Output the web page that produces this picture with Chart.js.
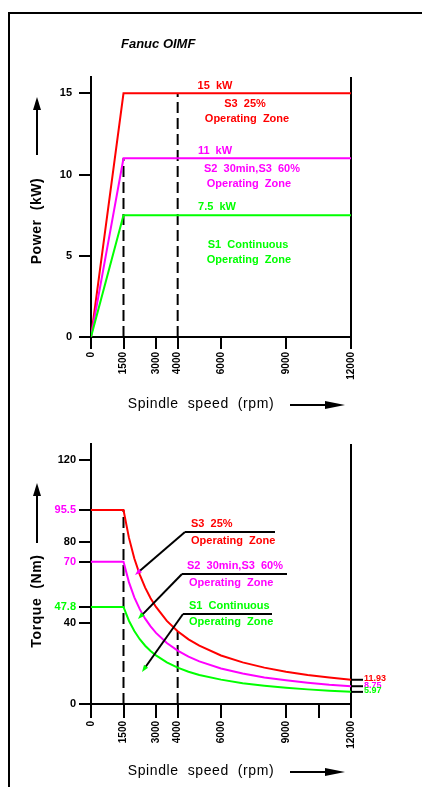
<!DOCTYPE html>
<html>
<head>
<meta charset="utf-8">
<script src="https://cdn.jsdelivr.net/npm/chart.js@4.4.0/dist/chart.umd.min.js"></script>
<style>
  html, body { margin: 0; padding: 0; background: #fff; }
  body { width: 422px; height: 787px; position: relative; overflow: hidden; }
  #frame { position: absolute; left: 8px; top: 12px; width: 600px; height: 900px;
           border-left: 2px solid #000; border-top: 2px solid #000; }
  .box { position: absolute; left: 0; width: 422px; }
  #powerBox { top: 0; height: 420px; }
  #torqueBox { top: 420px; height: 367px; }
</style>
</head>
<body>
<div id="frame"></div>
<div class="box" id="powerBox"><canvas id="power" width="422" height="420"></canvas></div>
<div class="box" id="torqueBox"><canvas id="torque" width="422" height="367"></canvas></div>
<script>
// ---- data ----
const speedTicks = [0, 1500, 3000, 4000, 6000, 9000, 12000];
const torqueSpeedTicks = [0, 1500, 3000, 4000, 6000, 9000, 10500, 12000];

const powerSpeeds = [0, 1500, 12000];
const powerS3 = [0, 15, 15];
const powerS2 = [0, 11, 11];
const powerS1 = [0, 7.5, 7.5];
const powerTicks = [0, 5, 10, 15];

const torqueSpeeds = [0, 1500, 1750, 2000, 2250, 2500, 2750, 3000, 3500, 4000, 4500, 5000, 6000, 7000, 8000, 9000, 10000, 11000, 12000];
const torqueS3 = [95.5, 95.5, 81.9, 71.6, 63.7, 57.3, 52.1, 47.8, 40.9, 35.8, 31.8, 28.7, 23.9, 20.5, 17.9, 15.9, 14.3, 13.0, 11.93];
const torqueS2 = [70, 70, 60, 52.5, 46.7, 42, 38.2, 35, 30, 26.3, 23.3, 21, 17.5, 15, 13.1, 11.7, 10.5, 9.5, 8.75];
const torqueS1 = [47.8, 47.8, 41, 35.9, 31.9, 28.7, 26.1, 23.9, 20.5, 17.9, 15.9, 14.3, 12, 10.2, 9, 8, 7.2, 6.5, 5.97];
const torqueTicks = [0, 40, 47.8, 70, 80, 95.5, 120];

const dashSpeeds = [1500, 4000];
const powerDashTops = [11, 15];
const torqueDashTops = [95.5, 35.8];

const RED = '#ff0000', MAG = '#ff00ff', GRN = '#00ff00';
const FONT = '"Liberation Sans", Arial, sans-serif';

function line(xs, ys, color, extra) {
  return Object.assign({
    data: xs.map((x, i) => ({ x: x, y: ys[i] })),
    borderColor: color, borderWidth: 2, pointRadius: 0, tension: 0, fill: false
  }, extra || {});
}

function dashes(tops) {
  return dashSpeeds.map((s, i) => line([s, s], [0, tops[i]], '#000', { borderDash: [11, 5] }));
}

function xScale(values, tickLen, labelled) {
  return {
    type: 'linear', min: 0, max: 12000,
    afterBuildTicks: s => { s.ticks = values.map(v => ({ value: v })); },
    afterFit: s => { s.height = 83; },
    border: { display: true, color: '#000', width: 2 },
    grid: {
      color: c => (c.tick && c.tick.value === 12000) ? '#000' : 'rgba(0,0,0,0)',
      tickColor: '#000', lineWidth: 2, tickLength: tickLen
    },
    ticks: {
      autoSkip: false, minRotation: 90, maxRotation: 90, padding: 3, color: '#000',
      font: { family: FONT, size: 10, weight: 'bold' },
      callback: v => labelled.includes(v) ? String(v) : ''
    }
  };
}

function yScale(max, values, colorOf, pad) {
  return {
    type: 'linear', min: 0, max: max,
    afterBuildTicks: s => { s.ticks = values.map(v => ({ value: v })); },
    afterFit: s => { s.width = 91; },
    border: { display: true, color: '#000', width: 2 },
    grid: { color: 'rgba(0,0,0,0)', tickColor: '#000', lineWidth: 2, tickLength: 12 },
    ticks: {
      autoSkip: false, padding: pad,
      color: c => colorOf(c.tick.value),
      font: { family: FONT, size: 11, weight: 'bold' },
      callback: v => String(v)
    }
  };
}

function arrow(ctx, x1, y1, x2, y2, len, half, color) {
  const a = Math.atan2(y2 - y1, x2 - x1);
  ctx.strokeStyle = '#000';
  ctx.lineWidth = 2;
  ctx.beginPath(); ctx.moveTo(x1, y1); ctx.lineTo(x2 - Math.cos(a) * len * 0.6, y2 - Math.sin(a) * len * 0.6); ctx.stroke();
  ctx.fillStyle = color || '#000';
  ctx.beginPath();
  ctx.moveTo(x2, y2);
  ctx.lineTo(x2 - Math.cos(a) * len - Math.sin(a) * half, y2 - Math.sin(a) * len + Math.cos(a) * half);
  ctx.lineTo(x2 - Math.cos(a) * len + Math.sin(a) * half, y2 - Math.sin(a) * len - Math.cos(a) * half);
  ctx.closePath(); ctx.fill();
}

function axisTitles(ctx, area, yTitle, yMid, arrowTop, arrowBottom) {
  ctx.save();
  ctx.fillStyle = '#000';
  ctx.font = '14px ' + FONT;
  ctx.letterSpacing = '0.6px';
  ctx.textAlign = 'center';
  ctx.textBaseline = 'middle';
  const ty = area.bottom + 67;
  ctx.fillText('Spindle  speed  (rpm)', 201, ty);
  arrow(ctx, area.right - 61, ty + 1, area.right - 6, ty + 1, 20, 4);
  ctx.translate(37, yMid);
  ctx.rotate(-Math.PI / 2);
  ctx.font = 'bold 14px ' + FONT;
  ctx.fillText(yTitle, 0, 0);
  ctx.restore();
  ctx.save();
  arrow(ctx, 37, arrowBottom, 37, arrowTop, 13, 4);
  ctx.restore();
}

function drawNotes(chart, notes) {
  const ctx = chart.ctx, xs = chart.scales.x, ys = chart.scales.y;
  ctx.save();
  ctx.font = 'bold 11px ' + FONT;
  ctx.textBaseline = 'middle';
  notes.forEach(n => {
    ctx.fillStyle = n.color;
    ctx.textAlign = n.align;
    ctx.fillText(n.text, xs.getPixelForValue(n.x), ys.getPixelForValue(n.y));
  });
  ctx.restore();
}

// ---- power chart ----
const powerNotes = [
  { text: '15  kW', x: 5723, y: 15.43, color: RED, align: 'center' },
  { text: 'S3  25%', x: 7108, y: 14.32, color: RED, align: 'center' },
  { text: 'Operating  Zone', x: 7200, y: 13.4, color: RED, align: 'center' },
  { text: '11  kW', x: 5723, y: 11.43, color: MAG, align: 'center' },
  { text: 'S2  30min,S3  60%', x: 7430, y: 10.33, color: MAG, align: 'center' },
  { text: 'Operating  Zone', x: 7290, y: 9.4, color: MAG, align: 'center' },
  { text: '7.5  kW', x: 5815, y: 7.99, color: GRN, align: 'center' },
  { text: 'S1  Continuous', x: 7250, y: 5.65, color: GRN, align: 'center' },
  { text: 'Operating  Zone', x: 7290, y: 4.73, color: GRN, align: 'center' }
];

const powerPlugin = {
  id: 'powerDecor',
  afterDraw(chart) {
    const ctx = chart.ctx;
    drawNotes(chart, powerNotes);
    ctx.save();
    ctx.fillStyle = '#000';
    ctx.font = 'italic bold 13px ' + FONT;
    ctx.textAlign = 'left';
    ctx.textBaseline = 'middle';
    ctx.fillText('Fanuc OIMF', 121, 44);
    ctx.restore();
    axisTitles(ctx, chart.chartArea, 'Power  (kW)', 221, 97, 155);
  }
};

new Chart(document.getElementById('power'), {
  type: 'line',
  data: {
    datasets: [
      line(powerSpeeds, powerS1, GRN),
      line(powerSpeeds, powerS2, MAG),
      line(powerSpeeds, powerS3, RED)
    ].concat(dashes(powerDashTops))
  },
  options: {
    responsive: false, animation: false,
    layout: { padding: { top: 77, right: 71, left: 0, bottom: 0 } },
    plugins: { legend: { display: false }, tooltip: { enabled: false } },
    scales: {
      x: xScale(speedTicks, 12, speedTicks),
      y: yScale(16, powerTicks, v => '#000', 7)
    }
  },
  plugins: [powerPlugin]
});

// ---- torque chart ----
const torqueNotes = [
  { text: 'S3  25%', x: 4615, y: 88.6, color: RED, align: 'left' },
  { text: 'Operating  Zone', x: 4615, y: 80.3, color: RED, align: 'left' },
  { text: 'S2  30min,S3  60%', x: 4431, y: 67.9, color: MAG, align: 'left' },
  { text: 'Operating  Zone', x: 4523, y: 59.6, color: MAG, align: 'left' },
  { text: 'S1  Continuous', x: 4523, y: 48.2, color: GRN, align: 'left' },
  { text: 'Operating  Zone', x: 4523, y: 40.4, color: GRN, align: 'left' }
];

const torqueLeaders = [
  { pts: [[2031, 63.5], [4338, 84.7], [8492, 84.7]], tip: MAG },
  { pts: [[2169, 41.8], [4200, 64], [9046, 64]], tip: GRN },
  { pts: [[2354, 15.8], [4246, 44.3], [8354, 44.3]], tip: GRN }
];

const torqueEnds = [
  { series: torqueS3, color: RED },
  { series: torqueS2, color: MAG },
  { series: torqueS1, color: GRN }
];

const torquePlugin = {
  id: 'torqueDecor',
  afterDraw(chart) {
    const ctx = chart.ctx, xs = chart.scales.x, ys = chart.scales.y, area = chart.chartArea;
    drawNotes(chart, torqueNotes);
    ctx.save();
    torqueLeaders.forEach(l => {
      const p = l.pts.map(q => [xs.getPixelForValue(q[0]), ys.getPixelForValue(q[1])]);
      ctx.strokeStyle = '#000'; ctx.lineWidth = 2;
      ctx.beginPath();
      ctx.moveTo(p[2][0], p[2][1]); ctx.lineTo(p[1][0], p[1][1]); ctx.stroke();
      arrow(ctx, p[1][0], p[1][1], p[0][0], p[0][1], 7, 2.5, l.tip);
    });
    ctx.font = 'bold 9px ' + FONT;
    ctx.textAlign = 'left';
    ctx.textBaseline = 'middle';
    torqueEnds.forEach(e => {
      const v = e.series[e.series.length - 1];
      const py = ys.getPixelForValue(v);
      ctx.strokeStyle = '#000'; ctx.lineWidth = 2;
      ctx.beginPath(); ctx.moveTo(area.right, py); ctx.lineTo(area.right + 12, py); ctx.stroke();
      ctx.fillStyle = e.color;
      ctx.fillText(String(v), area.right + 13, py - 1);
    });
    ctx.restore();
    axisTitles(ctx, area, 'Torque  (Nm)', 181, 63, 123);
  }
};

const torqueTickColor = v => (v === 95.5 || v === 70) ? MAG : (v === 47.8 ? GRN : '#000');

new Chart(document.getElementById('torque'), {
  type: 'line',
  data: {
    datasets: [
      line(torqueSpeeds, torqueS1, GRN),
      line(torqueSpeeds, torqueS2, MAG),
      line(torqueSpeeds, torqueS3, RED)
    ].concat(dashes(torqueDashTops))
  },
  options: {
    responsive: false, animation: false,
    layout: { padding: { top: 24, right: 71, left: 0, bottom: 0 } },
    plugins: { legend: { display: false }, tooltip: { enabled: false } },
    scales: {
      x: xScale(torqueSpeedTicks, 14, speedTicks),
      y: yScale(128, torqueTicks, torqueTickColor, 3)
    }
  },
  plugins: [torquePlugin]
});
</script>
</body>
</html>
